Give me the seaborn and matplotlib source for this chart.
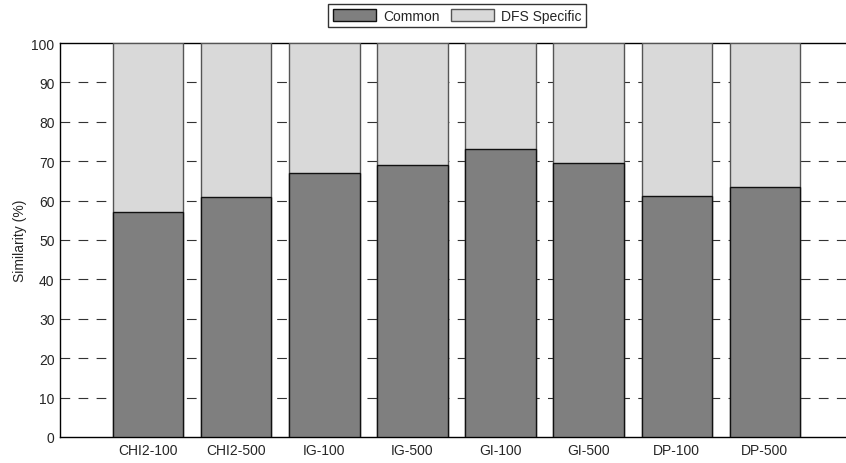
import matplotlib
matplotlib.use("Agg")
import matplotlib.pyplot as plt
import seaborn as sns
import pandas as pd
from matplotlib.patches import Patch

categories = ["CHI2-100", "CHI2-500", "IG-100", "IG-500", "GI-100", "GI-500", "DP-100", "DP-500"]
common = [57.1, 60.9, 67.0, 69.0, 73.1, 69.5, 61.2, 63.4]
total = [100, 100, 100, 100, 100, 100, 100, 100]
yticks = [0, 10, 20, 30, 40, 50, 60, 70, 80, 90, 100]

sns.set_theme(style="white")
plt.rcParams['font.family'] = ['Liberation Sans', 'DejaVu Sans']
FS = 10

df = pd.DataFrame({"cat": categories, "common": common, "total": total})

fig = plt.figure(figsize=(8.46, 4.64), dpi=100)
ax = fig.add_axes([60/846, 26/464, 793/846, 394/464])

sns.barplot(data=df, x="cat", y="total", color="#d9d9d9", width=0.8,
            edgecolor="#555555", linewidth=1.0, saturation=1, ax=ax, zorder=3)
sns.barplot(data=df, x="cat", y="common", color="#7f7f7f", width=0.8,
            edgecolor="#111111", linewidth=1.0, saturation=1, ax=ax, zorder=4)

ax.set_xlim(-1, len(categories))
ax.set_ylim(0, 100)
ax.set_yticks(yticks)
ax.set_xlabel("")
ax.set_ylabel("Similarity (%)", fontsize=FS, labelpad=3)
ax.tick_params(axis="both", labelsize=FS, direction="in", length=0, pad=4)
for y in yticks[1:-1]:
    ax.axhline(y, color="#333333", linestyle=(0, (8.75, 7.5)), linewidth=0.8, zorder=1)
for s in ax.spines.values():
    s.set_color("black")
    s.set_linewidth(1.0)
ax.spines['right'].set_visible(False)

handles = [Patch(facecolor="#7f7f7f", edgecolor="#111111", label="Common"),
           Patch(facecolor="#d9d9d9", edgecolor="#555555", label="DFS Specific")]
leg = fig.legend(handles=handles, loc="upper center", bbox_to_anchor=(457/846, 0.99),
                 ncol=2, fontsize=FS, frameon=True, fancybox=False,
                 edgecolor="black", handlelength=3.1, handleheight=0.95,
                 columnspacing=0.8, handletextpad=0.5, borderpad=0.35, borderaxespad=0)
leg.get_frame().set_linewidth(1.0)

fig.savefig("out.png", dpi=100)
